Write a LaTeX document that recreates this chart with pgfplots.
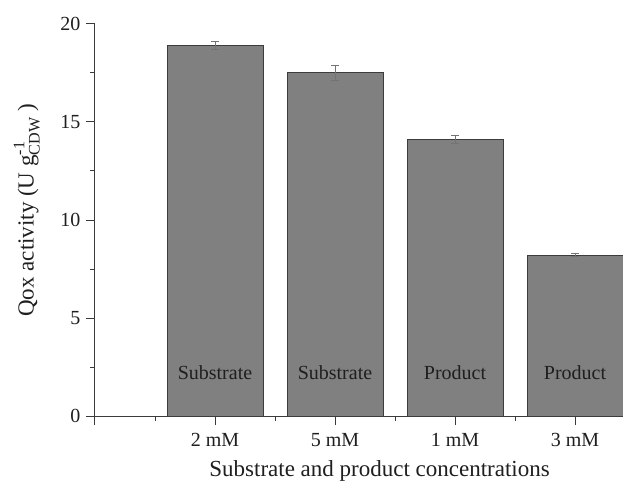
\documentclass[border=0pt]{standalone}
\usepackage{amsmath}
\usepackage{pgfplots}
\pgfplotsset{compat=1.18}
\usepackage{fontspec}
\setmainfont{Liberation Serif}
\definecolor{barfill}{HTML}{808080}
\definecolor{baredge}{HTML}{3C3C3C}
\definecolor{axcol}{HTML}{3A3A3A}
\begin{document}
\begin{tikzpicture}
\begin{axis}[
  scale only axis,
  width=528pt, height=392pt,
  xmin=0, xmax=4.4, ymin=0, ymax=20,
  axis lines=left,
  axis line style={axcol, line width=1pt, -},
  every tick/.style={axcol, line width=1pt},
  tick align=outside,
  major tick length=9pt,
  minor tick length=4.5pt,
  ytick={0,5,10,15,20},
  minor ytick={2.5,7.5,12.5,17.5},
  xtick={0,1,2,3,4},
  xticklabels={,2 mM,5 mM,1 mM,3 mM},
  minor xtick={0.5,1.5,2.5,3.5},
  tick label style={font=\fontsize{20}{22}\selectfont, color=black!88},
  /pgf/number format/assume math mode=true,
  xticklabel style={yshift=-5pt},
  yticklabel style={xshift=-2pt},
  xlabel={Substrate and product concentrations},
  ylabel={Qox activity (U g$^{\text{-1}}_{\text{CDW}}$ )},
  label style={font=\fontsize{23}{26}\selectfont, color=black!88},
  xlabel style={at={(axis description cs:0.539,-0.14)}, anchor=center},
  ylabel style={at={(axis description cs:-0.129,0.525)}, anchor=center},
  clip=false,
]
\addplot[ybar, bar width=96pt, fill=barfill, draw=baredge, line width=1pt,
  error bars/.cd, y dir=both, y explicit,
  error bar style={color=black!55, line width=0.8pt},
  error mark options={rotate=90, mark size=4pt, color=black!55, line width=0.8pt}]
  coordinates {
    (1,18.9) +- (0,0.2)
    (2,17.5) +- (0,0.4)
    (3,14.1) +- (0,0.2)
    (4,8.2)  +- (0,0.08)
  };
\node[font=\fontsize{20}{22}\selectfont, color=black!88] at (axis cs:1,2.2) {Substrate};
\node[font=\fontsize{20}{22}\selectfont, color=black!88] at (axis cs:2,2.2) {Substrate};
\node[font=\fontsize{20}{22}\selectfont, color=black!88] at (axis cs:3,2.2) {Product};
\node[font=\fontsize{20}{22}\selectfont, color=black!88] at (axis cs:4,2.2) {Product};
\end{axis}
\pgfresetboundingbox
\path ([xshift=-95pt,yshift=-66pt]current axis.south west) rectangle ([xshift=528pt,yshift=416pt]current axis.south west);
\end{tikzpicture}
\end{document}
